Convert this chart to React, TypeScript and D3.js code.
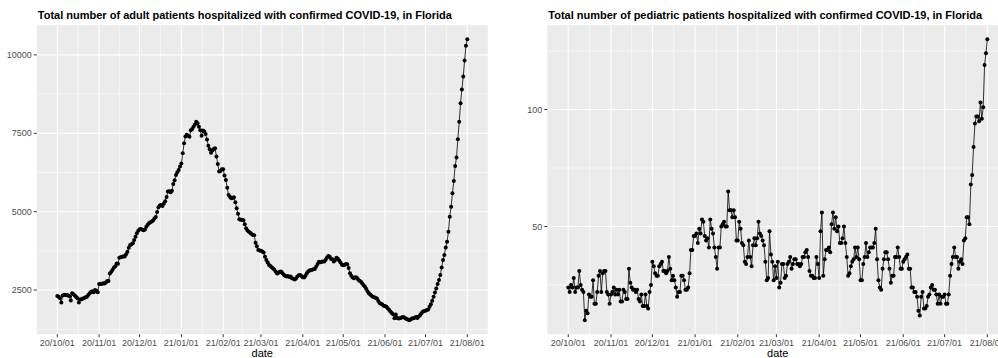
import { useEffect, useRef } from 'react'
import * as d3 from 'd3'

// first day of both series (one value per day up to 2021-08-01)
const startDate = new Date(2020, 9, 1)

// adult patients hospitalized, one value per day
const adultCounts = [
  // Oct 2020
  2310, 2290, 2240, 2100, 2330, 2350, 2340, 2340, 2330, 2300, 2170, 2400, 2370, 2330, 2280, 2240,
  2100, 2200, 2210, 2230, 2250, 2270, 2290, 2340, 2400, 2440, 2460, 2430, 2500, 2480, 2430,
  // Nov
  2690, 2700, 2690, 2720, 2710, 2740, 2790, 2790, 3030, 3080, 3150, 3220, 3260, 3350, 3340,
  3530, 3550, 3560, 3570, 3570, 3640, 3720, 3850, 3940, 3960, 3990, 4100, 4200, 4310, 4390,
  // Dec
  4440, 4450, 4420, 4410, 4430, 4520, 4580, 4630, 4660, 4690, 4720, 4780, 4830, 4990, 5140, 5200,
  5210, 5180, 5260, 5330, 5470, 5640, 5650, 5620, 5670, 5880, 6000, 6170, 6260, 6330, 6440,
  // Jan 2021
  6540, 6860, 7180, 7400, 7450, 7420, 7390, 7600, 7640, 7710, 7780, 7870, 7820, 7710, 7600, 7420,
  7590, 7560, 7480, 7300, 7100, 6990, 6880, 6950, 7000, 7020, 6760, 6520, 6280, 6300, 6350,
  // Feb
  6350, 6150, 6010, 5760, 5530, 5480, 5430, 5440, 5460, 5300, 5110, 4930, 4760, 4740,
  4740, 4730, 4600, 4470, 4400, 4360, 4330, 4290, 4260, 4250, 4010, 3900, 3780, 3760,
  // Mar
  3750, 3730, 3700, 3560, 3460, 3380, 3300, 3270, 3230, 3190, 3150, 3080, 3030, 3050, 3080, 3090,
  3040, 2990, 2950, 2930, 2950, 2920, 2930, 2880, 2860, 2840, 2870, 2930, 2970, 2980, 2950,
  // Apr
  2910, 2900, 2960, 3040, 3090, 3120, 3130, 3150, 3160, 3170, 3250, 3330, 3400, 3390, 3400,
  3410, 3410, 3470, 3540, 3590, 3560, 3490, 3480, 3410, 3460, 3530, 3500, 3440, 3380, 3310,
  // May
  3290, 3300, 3330, 3320, 3200, 3040, 2960, 2900, 2880, 2910, 2900, 2840, 2800, 2770, 2720, 2660,
  2610, 2540, 2460, 2400, 2360, 2320, 2290, 2270, 2250, 2230, 2150, 2090, 2060, 2040, 2000,
  // Jun
  1990, 1970, 1920, 1870, 1820, 1770, 1730, 1600, 1720, 1610, 1590, 1600, 1620, 1640, 1630,
  1600, 1580, 1560, 1540, 1560, 1590, 1600, 1620, 1640, 1610, 1660, 1700, 1760, 1810, 1830,
  // Jul
  1840, 1860, 1880, 1970, 2050, 2160, 2290, 2420, 2550, 2690, 2820, 2980, 3220, 3460, 3620, 3860,
  4040, 4360, 4840, 5160, 5590, 5980, 6460, 6730, 7310, 7870, 8460, 8900, 9310, 9820, 10290,
  // Aug 1
  10500
]

// pediatric patients hospitalized, one value per day
const pediatricCounts = [
  // Oct 2020
  24, 22, 25, 24, 28, 22, 24, 24, 31, 25, 23, 22, 10, 14, 13, 21,
  20, 20, 27, 17, 17, 22, 29, 31, 22, 30, 31, 31, 22, 21, 17,
  // Nov
  21, 22, 24, 21, 23, 21, 23, 18, 18, 23, 22, 19, 19, 32, 26,
  24, 23, 23, 22, 23, 19, 18, 21, 16, 16, 21, 16, 15, 22, 25,
  // Dec
  35, 33, 30, 29, 29, 33, 34, 35, 31, 31, 30, 31, 37, 32, 27, 29,
  27, 24, 20, 22, 22, 29, 29, 27, 23, 23, 24, 30, 40, 40, 46,
  // Jan 2021
  46, 47, 43, 49, 47, 53, 52, 46, 44, 45, 41, 53, 49, 47, 41, 37,
  32, 41, 41, 50, 51, 52, 50, 50, 65, 57, 57, 54, 57, 54, 44,
  // Feb
  44, 52, 49, 43, 42, 35, 34, 37, 44, 37, 33, 42, 45, 42,
  45, 52, 47, 46, 44, 42, 35, 27, 28, 48, 38, 35, 27, 33,
  // Mar
  28, 35, 24, 26, 34, 34, 28, 29, 34, 35, 37, 32, 34, 36, 36, 34,
  34, 33, 34, 37, 37, 39, 40, 37, 31, 29, 29, 28, 28, 37, 34,
  // Apr
  28, 48, 56, 29, 36, 40, 40, 41, 39, 51, 56, 49, 54, 48, 50,
  43, 43, 45, 50, 43, 37, 29, 30, 33, 35, 36, 41, 37, 41, 36,
  // May
  27, 27, 34, 37, 43, 37, 39, 41, 41, 41, 43, 49, 36, 27, 24, 23,
  32, 36, 39, 39, 36, 32, 26, 29, 29, 37, 37, 41, 37, 32, 32,
  // Jun
  35, 36, 37, 38, 32, 32, 24, 24, 22, 22, 20, 14, 12, 20, 22,
  15, 15, 16, 20, 21, 24, 25, 23, 23, 21, 17, 21, 17, 20, 20,
  // Jul
  21, 17, 17, 21, 29, 34, 37, 41, 37, 37, 32, 35, 36, 34, 44, 45,
  54, 54, 51, 68, 72, 84, 94, 97, 97, 95, 103, 96, 101, 119, 124,
  // Aug 1
  130
]

const monthTicks = [
  new Date(2020, 9, 1), new Date(2020, 10, 1), new Date(2020, 11, 1), new Date(2021, 0, 1),
  new Date(2021, 1, 1), new Date(2021, 2, 1), new Date(2021, 3, 1), new Date(2021, 4, 1),
  new Date(2021, 5, 1), new Date(2021, 6, 1), new Date(2021, 7, 1)
]

const adultYTicks = [2500, 5000, 7500, 10000]
const adultYMinor = [1250, 3750, 6250, 8750]
const pediatricYTicks = [50, 100]
const pediatricYMinor = [25, 75, 125]

const adultTitle = 'Total number of adult patients hospitalized with confirmed COVID-19, in Florida'
const pediatricTitle = 'Total number of pediatric patients hospitalized with confirmed COVID-19, in Florida'

const FONT = '"Liberation Sans", Arial, sans-serif'

interface PanelOpts {
  left: number
  right: number
  top: number
  bottom: number
  values: number[]
  yTicks: number[]
  yMinor: number[]
  title: string
}

function drawPanel(svg: d3.Selection<SVGSVGElement, unknown, null, undefined>, o: PanelOpts) {
  const data = o.values.map((v, i) => ({ date: d3.timeDay.offset(startDate, i), value: v }))
  const tExt = d3.extent(data, d => d.date.getTime()) as [number, number]
  const vExt = d3.extent(data, d => d.value) as [number, number]
  // ggplot style 5% expansion
  const tPad = (tExt[1] - tExt[0]) * 0.05
  const vPad = (vExt[1] - vExt[0]) * 0.05

  const x = d3.scaleTime()
    .domain([new Date(tExt[0] - tPad), new Date(tExt[1] + tPad)])
    .range([o.left, o.right])
  const y = d3.scaleLinear()
    .domain([vExt[0] - vPad, vExt[1] + vPad])
    .range([o.bottom, o.top])

  const g = svg.append('g')

  g.append('rect')
    .attr('x', o.left)
    .attr('y', o.top)
    .attr('width', o.right - o.left)
    .attr('height', o.bottom - o.top)
    .style('fill', '#EBEBEB')

  // minor grid
  const xMinor = monthTicks.slice(1).map((d, i) => new Date((d.getTime() + monthTicks[i].getTime()) / 2))
  xMinor.forEach(d => {
    g.append('line')
      .attr('x1', x(d)).attr('x2', x(d))
      .attr('y1', o.top).attr('y2', o.bottom)
      .style('stroke', '#FFFFFF').style('stroke-width', '0.55px')
  })
  o.yMinor.forEach(v => {
    g.append('line')
      .attr('x1', o.left).attr('x2', o.right)
      .attr('y1', y(v)).attr('y2', y(v))
      .style('stroke', '#FFFFFF').style('stroke-width', '0.55px')
  })

  // major grid
  monthTicks.forEach(d => {
    g.append('line')
      .attr('x1', x(d)).attr('x2', x(d))
      .attr('y1', o.top).attr('y2', o.bottom)
      .style('stroke', '#FFFFFF').style('stroke-width', '1.1px')
  })
  o.yTicks.forEach(v => {
    g.append('line')
      .attr('x1', o.left).attr('x2', o.right)
      .attr('y1', y(v)).attr('y2', y(v))
      .style('stroke', '#FFFFFF').style('stroke-width', '1.1px')
  })

  const line = d3.line<typeof data[0]>()
    .x(d => x(d.date))
    .y(d => y(d.value))

  g.append('path')
    .datum(data)
    .attr('d', line)
    .style('fill', 'none')
    .style('stroke', '#000000')
    .style('stroke-width', '0.8px')

  g.selectAll('circle.pt')
    .data(data)
    .enter()
    .append('circle')
    .attr('cx', d => x(d.date))
    .attr('cy', d => y(d.value))
    .attr('r', 2)
    .style('fill', '#000000')

  // x axis
  monthTicks.forEach(d => {
    g.append('line')
      .attr('x1', x(d)).attr('x2', x(d))
      .attr('y1', o.bottom).attr('y2', o.bottom + 3)
      .style('stroke', '#333333').style('stroke-width', '1px')
    g.append('text')
      .attr('x', x(d))
      .attr('y', o.bottom + 12)
      .attr('text-anchor', 'middle')
      .style('fill', '#4D4D4D')
      .style('font-size', '9px')
      .style('font-family', FONT)
      .text(d3.timeFormat('%y/%m/%d')(d))
  })

  // y axis
  o.yTicks.forEach(v => {
    g.append('line')
      .attr('x1', o.left - 3).attr('x2', o.left)
      .attr('y1', y(v)).attr('y2', y(v))
      .style('stroke', '#333333').style('stroke-width', '1px')
    g.append('text')
      .attr('x', o.left - 5)
      .attr('y', y(v) + 3.2)
      .attr('text-anchor', 'end')
      .style('fill', '#4D4D4D')
      .style('font-size', '9px')
      .style('font-family', FONT)
      .text(v)
  })

  g.append('text')
    .attr('x', (o.left + o.right) / 2)
    .attr('y', 357)
    .attr('text-anchor', 'middle')
    .style('fill', '#000000')
    .style('font-size', '11px')
    .style('font-family', FONT)
    .text('date')

  g.append('text')
    .attr('x', o.left + 1)
    .attr('y', 18.5)
    .style('fill', '#000000')
    .style('font-size', '11px')
    .style('font-weight', 'bold')
    .style('font-family', FONT)
    .text(o.title)
}

export default function App() {
  const svgRef = useRef<SVGSVGElement>(null)
  const width = 998
  const height = 358

  useEffect(() => {
    if (!svgRef.current) return
    const svg = d3.select(svgRef.current)
    svg.selectAll('*').remove()

    svg.append('rect')
      .attr('width', width)
      .attr('height', height)
      .style('fill', '#FFFFFF')

    drawPanel(svg, {
      left: 36.8, right: 487.8, top: 25.2, bottom: 334.2,
      values: adultCounts, yTicks: adultYTicks, yMinor: adultYMinor, title: adultTitle
    })
    drawPanel(svg, {
      left: 547.3, right: 1008.3, top: 25.2, bottom: 334.2,
      values: pediatricCounts, yTicks: pediatricYTicks, yMinor: pediatricYMinor, title: pediatricTitle
    })
  }, [])

  return (
    <div style={{ position: 'absolute', left: 0, top: 0 }}>
      <svg ref={svgRef} width={width} height={height} style={{ display: 'block' }} />
    </div>
  )
}
